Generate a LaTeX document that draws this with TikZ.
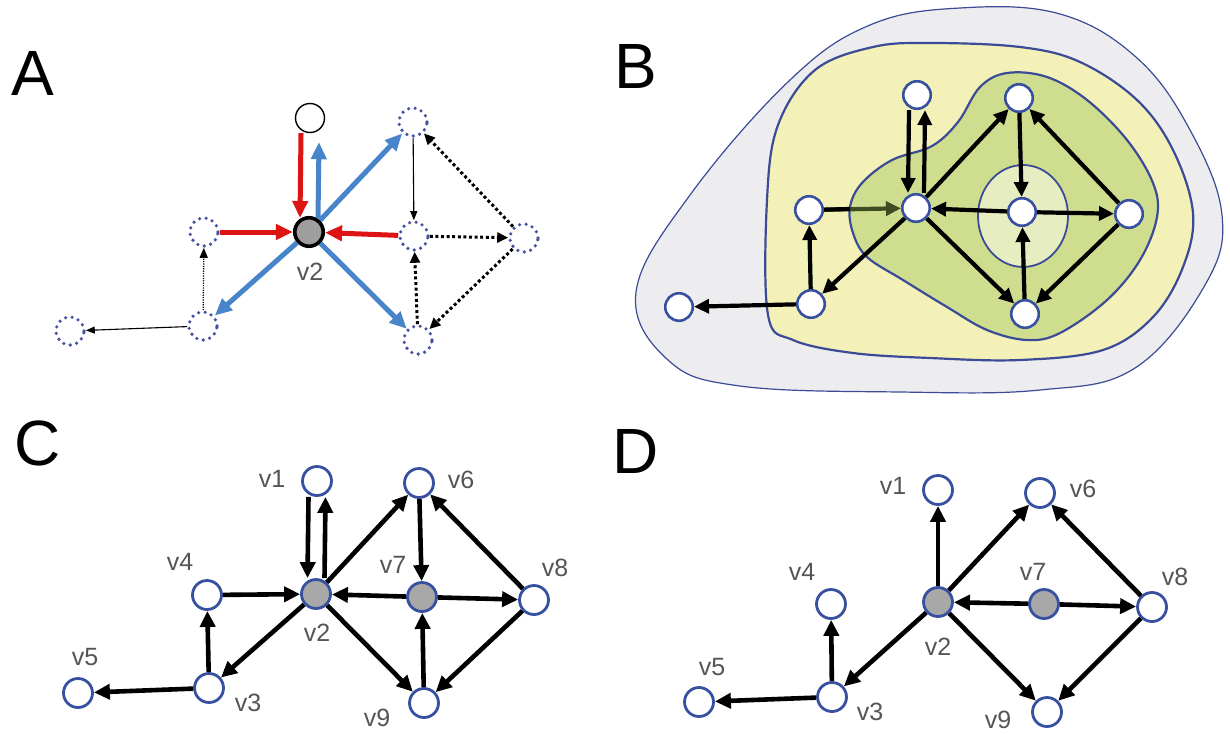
\documentclass[tikz,border=0pt]{standalone}
\usepackage{fontspec}
\setmainfont{Liberation Sans}
\usetikzlibrary{arrows.meta,calc}
\definecolor{nodeblue}{RGB}{55,80,160}
\definecolor{arred}{RGB}{222,20,20}
\definecolor{arblue}{RGB}{72,132,202}
\definecolor{dotblue}{RGB}{70,82,160}
\definecolor{lblgray}{RGB}{85,85,85}
\definecolor{blobgray}{RGB}{237,237,240}
\definecolor{blobline}{RGB}{60,75,150}
\definecolor{yel}{RGB}{243,241,184}
\definecolor{grn}{RGB}{206,222,142}
\definecolor{lgrn}{RGB}{229,237,193}
\definecolor{olivedark}{RGB}{62,76,36}
\definecolor{greyfill}{RGB}{168,168,168}
\definecolor{agrey}{RGB}{158,158,158}
\tikzset{
  vnode/.style={circle, draw=nodeblue, line width=2.8pt, fill=white, minimum size=29pt, inner sep=0pt},
  gnode/.style={vnode, fill=greyfill},
  bnode/.style={circle, draw=nodeblue, line width=2.6pt, fill=white, minimum size=27.5pt, inner sep=0pt},
  dnode/.style={circle, draw=dotblue, line width=3.6pt, dash pattern=on 0pt off 6.6pt, line cap=round, minimum size=28pt, inner sep=0pt},
  topnode/.style={circle, draw=black, line width=1.4pt, fill=white, minimum size=29pt, inner sep=0pt},
  centnode/.style={circle, draw=black, line width=3.6pt, fill=agrey, minimum size=28.5pt, inner sep=0pt},
  carrow/.style={line width=4.6pt, -{Triangle[length=16pt,width=15pt]}},
  barrow/.style={line width=4.2pt, -{Triangle[length=15pt,width=14pt]}},
  redar/.style={draw=arred, line width=5pt, -{Triangle[length=17pt,width=15pt]}},
  bluear/.style={draw=arblue, line width=5pt, -{Triangle[length=17pt,width=15pt]}},
  athin/.style={line width=1.1pt, -{Triangle[length=9pt,width=7pt]}},
  adot/.style={line width=3pt, dash pattern=on 3pt off 2.6pt, -{Triangle[length=11pt,width=10pt]}},
  afine/.style={line width=1.3pt, dash pattern=on 1.2pt off 1.2pt, -{Triangle[length=10pt,width=8pt]}},
  vlabel/.style={text=lblgray, font=\fontsize{25}{25}\selectfont, inner sep=0pt},
  panel/.style={font=\fontsize{64}{64}\selectfont, anchor=base west, inner sep=0pt},
}
\begin{document}
\begin{tikzpicture}[x=1pt,y=-1pt]
\useasboundingbox (0,0) rectangle (1230,734);
\fill[white] (0,0) rectangle (1230,734);

% ---------- panel labels ----------
\node[panel] (lblA) at (11,95) {A};
\node[panel] (lblB) at (614,88) {B};
\node[panel] (lblC) at (14,465) {C};
\node[panel] (lblD) at (612,473) {D};

% ---------- Panel A ----------
\node[topnode] (Atop) at (310,118) {};
\node[centnode] (Av2) at (309,232) {};
\node[dnode] (AL) at (204,232) {};
\node[dnode] (ABL) at (203,326) {};
\node[dnode] (AFL) at (70,331) {};
\node[dnode] (ATR) at (413,122) {};
\node[dnode] (ARM) at (414,236) {};
\node[dnode] (AFR) at (524,238) {};
\node[dnode] (ABR) at (418,340) {};
\node[vlabel] (Av2l) at (310,272) {v2};

\draw[redar] ([xshift=-9pt]Atop.south) -- ([xshift=-9pt,yshift=-2pt]Av2.north);
\draw[bluear] ([xshift=9pt,yshift=-2pt]Av2.north) -- ([xshift=9pt,yshift=-9pt]Atop.south);
\draw[redar] (AL) -- (Av2);
\draw[redar] (ARM) -- (Av2);
\draw[bluear] (Av2) -- (ATR);
\draw[bluear] (Av2) -- (ABL);
\draw[bluear] (Av2) -- (ABR);
\draw[athin] (ATR) -- (ARM);
\draw[athin] (ABL) -- (AFL);
\draw[afine] (ABL) -- (AL);
\draw[adot] (ARM) -- (AFR);
\draw[adot] (AFR) -- (ATR);
\draw[adot] (AFR) -- (ABR);
\draw[adot] (ABR) -- (ARM);

% ---------- Panel B ----------
\filldraw[fill=blobgray, draw=blobline, line width=1.2pt]
  plot[smooth cycle, tension=0.65] coordinates {(636,292) (690,195) (790,80) (870,25) (960,8) (1060,14) (1137,58) (1190,130) (1222,215) (1205,285) (1135,368) (1040,390) (900,392) (740,386) (668,360)};
\filldraw[fill=yel, draw=blobline, line width=2.2pt]
  plot[smooth cycle, tension=0.6] coordinates {(767,200) (778,125) (815,70) (873,47) (930,43) (1020,47) (1080,62) (1137,100) (1173,150) (1193,213) (1183,267) (1153,317) (1103,350) (1020,360) (930,358) (853,353) (793,340) (768,315)};
\filldraw[fill=grn, draw=blobline, line width=2.2pt]
  plot[smooth cycle, tension=0.6] coordinates {(850,207) (862,183) (892,160) (932,146) (958,122) (980,87) (1007,73) (1047,77) (1087,100) (1127,140) (1153,183) (1157,217) (1140,260) (1107,300) (1060,333) (1027,340) (987,330) (947,307) (903,280) (867,257) (853,233)};
\filldraw[fill=lgrn, draw=blobline, line width=1.8pt] (1023,216) ellipse [x radius=45, y radius=51];

\node[bnode] (Bv1) at (917,95) {};
\node[bnode] (Bv2) at (916,208) {};
\node[bnode] (Bv4) at (809,210) {};
\node[bnode] (Bv3) at (811,304) {};
\node[bnode] (Bv5) at (679,307) {};
\node[bnode] (Bv6) at (1019,98) {};
\node[bnode] (Bv7) at (1022,212) {};
\node[bnode] (Bv8) at (1129,214) {};
\node[bnode] (Bv9) at (1025,314) {};
\coordinate (Bmid) at (850,209);

\draw[barrow] ([xshift=-8pt]Bv1.south) -- ([xshift=-8pt]Bv2.north);
\draw[barrow] ([xshift=8pt]Bv2.north) -- ([xshift=8pt]Bv1.south);
\draw[barrow, draw=olivedark] (Bv4) -- (Bv2);
\draw[line width=4.2pt] (Bv4) -- (Bmid);
\draw[barrow] (Bv3) -- (Bv4);
\draw[barrow] (Bv2) -- (Bv3);
\draw[barrow] (Bv3) -- (Bv5);
\draw[barrow] (Bv2) -- (Bv6);
\draw[barrow] (Bv6) -- (Bv7);
\draw[barrow] (Bv7) -- (Bv2);
\draw[barrow] (Bv7) -- (Bv8);
\draw[barrow] (Bv8) -- (Bv6);
\draw[barrow] (Bv8) -- (Bv9);
\draw[barrow] (Bv9) -- (Bv7);
\draw[barrow] (Bv2) -- (Bv9);

% ---------- Panel C ----------
\node[vnode] (Cv1) at (317,481) {};
\node[gnode] (Cv2) at (316,594) {};
\node[vnode] (Cv4) at (207,595) {};
\node[vnode] (Cv3) at (209,688) {};
\node[vnode] (Cv5) at (78,693) {};
\node[vnode] (Cv6) at (419,483) {};
\node[gnode] (Cv7) at (422,597) {};
\node[vnode] (Cv8) at (534,600) {};
\node[vnode] (Cv9) at (424,703) {};
\node[vlabel] (Cl1) at (272,479) {v1};
\node[vlabel] (Cl2) at (317,633) {v2};
\node[vlabel] (Cl3) at (248,703) {v3};
\node[vlabel] (Cl4) at (180,562) {v4};
\node[vlabel] (Cl5) at (85,657) {v5};
\node[vlabel] (Cl6) at (461,480) {v6};
\node[vlabel] (Cl7) at (393,565) {v7};
\node[vlabel] (Cl8) at (555,568) {v8};
\node[vlabel] (Cl9) at (377,718) {v9};

\draw[carrow] ([xshift=-8.5pt]Cv1.south) -- ([xshift=-8.5pt]Cv2.north);
\draw[carrow] ([xshift=8.5pt]Cv2.north) -- ([xshift=8.5pt]Cv1.south);
\draw[carrow] (Cv4) -- (Cv2);
\draw[carrow] (Cv3) -- (Cv4);
\draw[carrow] (Cv2) -- (Cv3);
\draw[carrow] (Cv3) -- (Cv5);
\draw[carrow] (Cv2) -- (Cv6);
\draw[carrow] (Cv6) -- (Cv7);
\draw[carrow] (Cv7) -- (Cv2);
\draw[carrow] (Cv7) -- (Cv8);
\draw[carrow] (Cv8) -- (Cv6);
\draw[carrow] (Cv8) -- (Cv9);
\draw[carrow] (Cv9) -- (Cv7);
\draw[carrow] (Cv2) -- (Cv9);

% ---------- Panel D ----------
\node[vnode] (Dv1) at (938,490) {};
\node[gnode] (Dv2) at (938,602) {};
\node[vnode] (Dv4) at (831,604) {};
\node[vnode] (Dv3) at (832,697) {};
\node[vnode] (Dv5) at (699,702) {};
\node[vnode] (Dv6) at (1040,493) {};
\node[gnode] (Dv7) at (1044,604) {};
\node[vnode] (Dv8) at (1152,607) {};
\node[vnode] (Dv9) at (1047,712) {};
\node[vlabel] (Dl1) at (893,486) {v1};
\node[vlabel] (Dl2) at (938,647) {v2};
\node[vlabel] (Dl3) at (870,712) {v3};
\node[vlabel] (Dl4) at (802,572) {v4};
\node[vlabel] (Dl5) at (712,667) {v5};
\node[vlabel] (Dl6) at (1083,489) {v6};
\node[vlabel] (Dl7) at (1033,572) {v7};
\node[vlabel] (Dl8) at (1175,577) {v8};
\node[vlabel] (Dl9) at (998,720) {v9};

\draw[carrow] (Dv2) -- (Dv1);
\draw[carrow] (Dv3) -- (Dv4);
\draw[carrow] (Dv2) -- (Dv3);
\draw[carrow] (Dv3) -- (Dv5);
\draw[carrow] (Dv2) -- (Dv6);
\draw[carrow] (Dv7) -- (Dv2);
\draw[carrow] (Dv7) -- (Dv8);
\draw[carrow] (Dv8) -- (Dv6);
\draw[carrow] (Dv8) -- (Dv9);
\draw[carrow] (Dv2) -- (Dv9);
\end{tikzpicture}
\end{document}
